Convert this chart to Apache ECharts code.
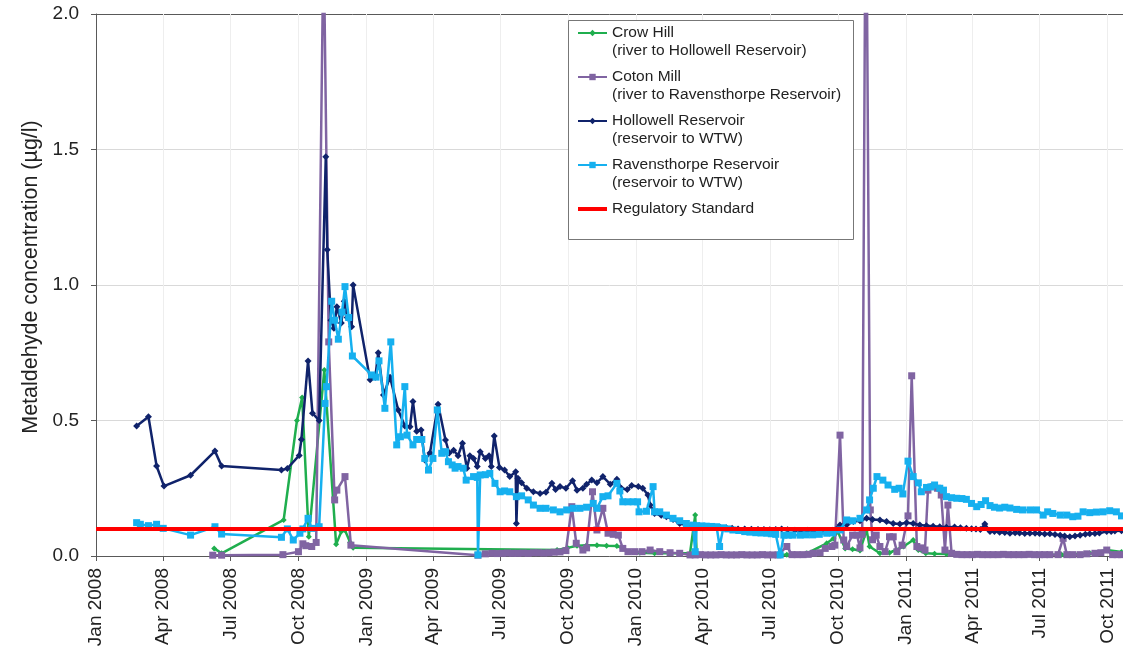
<!DOCTYPE html>
<html><head><meta charset="utf-8">
<script src="https://cdn.jsdelivr.net/npm/echarts@6/dist/echarts.min.js"></script>
<style>html,body{margin:0;padding:0;background:#fff}#c{width:1123px;height:651px}</style>
</head><body><div id="c"></div>
<script>
const tickDates = ['2008-01-01','2008-04-01','2008-07-01','2008-10-01','2009-01-01','2009-04-01','2009-07-01','2009-10-01','2010-01-01','2010-04-01','2010-07-01','2010-10-01','2011-01-01','2011-04-01','2011-07-01','2011-10-01'];
const tickLabels = ['Jan 2008','Apr 2008','Jul 2008','Oct 2008','Jan 2009','Apr 2009','Jul 2009','Oct 2009','Jan 2010','Apr 2010','Jul 2010','Oct 2010','Jan 2011','Apr 2011','Jul 2011','Oct 2011'];
const xRange = ['2008-01-01','2011-10-22'];
const regulatoryStandard = 0.1;

const crowHill = [['2008-06-09',0.028],['2008-06-19',0.01],['2008-09-11',0.133],['2008-09-29',0.50],['2008-10-06',0.585],['2008-10-15',0.071],['2008-11-05',0.686],['2008-11-21',0.043],['2008-11-28',0.09],['2008-12-03',0.095],['2008-12-10',0.05],['2008-12-14',0.03],['2009-09-16',0.022],['2009-09-30',0.03],['2009-10-13',0.038],['2009-10-26',0.04],['2009-11-09',0.04],['2009-11-22',0.038],['2009-12-06',0.037],['2009-12-14',0.028],['2009-12-24',0.015],['2010-01-06',0.012],['2010-01-26',0.01],['2010-02-16',0.01],['2010-03-15',0.01],['2010-03-22',0.151],['2010-03-24',0.008],['2010-04-11',0.005],['2010-05-08',0.005],['2010-06-04',0.005],['2010-07-01',0.005],['2010-07-24',0.005],['2010-08-20',0.01],['2010-09-16',0.047],['2010-09-25',0.065],['2010-10-01',0.09],['2010-10-11',0.028],['2010-10-21',0.025],['2010-10-31',0.02],['2010-11-09',0.096],['2010-11-13',0.035],['2010-11-27',0.01],['2010-12-10',0.012],['2010-12-29',0.035],['2011-01-11',0.059],['2011-01-18',0.022],['2011-01-28',0.01],['2011-02-09',0.008],['2011-02-25',0.007],['2011-03-15',0.005],['2011-04-25',0.005],['2011-06-04',0.005],['2011-07-31',0.005],['2011-09-07',0.01],['2011-09-30',0.022],['2011-10-20',0.015]];

const cotonMill = [['2008-06-07',0.003],['2008-06-19',0.003],['2008-09-10',0.005],['2008-10-01',0.016],['2008-10-07',0.045],['2008-10-11',0.038],['2008-10-19',0.035],['2008-10-25',0.05],['2008-11-04',2.3],['2008-11-11',0.79],['2008-11-19',0.207],['2008-11-22',0.243],['2008-12-03',0.293],['2008-12-11',0.04],['2009-06-01',0.003],['2009-06-11',0.008],['2009-06-20',0.01],['2009-06-27',0.009],['2009-07-04',0.01],['2009-07-11',0.011],['2009-07-18',0.01],['2009-07-25',0.01],['2009-08-01',0.011],['2009-08-08',0.01],['2009-08-15',0.012],['2009-08-22',0.012],['2009-08-29',0.011],['2009-09-05',0.012],['2009-09-12',0.014],['2009-09-20',0.015],['2009-09-28',0.02],['2009-10-06',0.182],['2009-10-12',0.047],['2009-10-21',0.022],['2009-10-26',0.03],['2009-11-03',0.237],['2009-11-09',0.096],['2009-11-17',0.176],['2009-11-24',0.084],['2009-12-01',0.08],['2009-12-08',0.077],['2009-12-14',0.028],['2009-12-21',0.016],['2009-12-30',0.016],['2010-01-09',0.016],['2010-01-20',0.022],['2010-02-02',0.016],['2010-02-16',0.012],['2010-03-01',0.01],['2010-03-15',0.004],['2010-03-22',0.004],['2010-03-29',0.005],['2010-04-05',0.004],['2010-04-12',0.004],['2010-04-19',0.004],['2010-04-26',0.005],['2010-05-03',0.004],['2010-05-10',0.004],['2010-05-17',0.004],['2010-05-24',0.005],['2010-05-31',0.004],['2010-06-07',0.004],['2010-06-14',0.004],['2010-06-21',0.005],['2010-06-28',0.004],['2010-07-05',0.004],['2010-07-12',0.004],['2010-07-24',0.035],['2010-07-31',0.005],['2010-08-07',0.005],['2010-08-15',0.005],['2010-08-22',0.006],['2010-08-29',0.01],['2010-09-07',0.012],['2010-09-14',0.028],['2010-09-23',0.035],['2010-09-27',0.04],['2010-10-04',0.446],['2010-10-09',0.059],['2010-10-13',0.035],['2010-10-21',0.077],['2010-10-27',0.077],['2010-10-31',0.03],['2010-11-03',0.08],['2010-11-08',2.7],['2010-11-14',0.17],['2010-11-17',0.06],['2010-11-22',0.077],['2010-11-27',0.035],['2010-12-04',0.016],['2010-12-10',0.071],['2010-12-15',0.071],['2010-12-20',0.016],['2010-12-27',0.04],['2011-01-04',0.148],['2011-01-09',0.665],['2011-01-16',0.035],['2011-01-21',0.03],['2011-01-27',0.022],['2011-01-31',0.243],['2011-02-07',0.256],['2011-02-13',0.25],['2011-02-18',0.225],['2011-02-23',0.022],['2011-02-27',0.188],['2011-03-04',0.01],['2011-03-11',0.006],['2011-03-18',0.005],['2011-03-25',0.005],['2011-04-01',0.005],['2011-04-08',0.006],['2011-04-15',0.005],['2011-04-22',0.005],['2011-04-29',0.005],['2011-05-06',0.005],['2011-05-13',0.006],['2011-05-20',0.005],['2011-05-27',0.005],['2011-06-03',0.005],['2011-06-10',0.005],['2011-06-17',0.006],['2011-06-24',0.005],['2011-07-01',0.005],['2011-07-08',0.005],['2011-07-15',0.005],['2011-07-26',0.005],['2011-08-02',0.065],['2011-08-07',0.005],['2011-08-15',0.005],['2011-08-25',0.005],['2011-09-03',0.008],['2011-09-14',0.01],['2011-09-22',0.012],['2011-09-30',0.022],['2011-10-08',0.005],['2011-10-14',0.005],['2011-10-20',0.005]];

const hollowell = [['2008-02-25',0.48],['2008-03-12',0.514],['2008-03-23',0.332],['2008-04-02',0.258],['2008-05-08',0.298],['2008-06-10',0.387],['2008-06-19',0.332],['2008-09-08',0.317],['2008-09-16',0.323],['2008-10-02',0.371],['2008-10-05',0.43],['2008-10-14',0.72],['2008-10-20',0.527],['2008-10-29',0.50],['2008-11-07',1.473],['2008-11-09',1.13],['2008-11-14',0.87],['2008-11-18',0.84],['2008-11-22',0.92],['2008-11-28',0.86],['2008-12-02',0.94],['2008-12-06',0.88],['2008-12-12',0.846],['2008-12-14',1.0],['2009-01-06',0.65],['2009-01-13',0.66],['2009-01-17',0.75],['2009-01-24',0.594],['2009-02-02',0.66],['2009-02-13',0.539],['2009-02-22',0.48],['2009-03-01',0.477],['2009-03-05',0.57],['2009-03-10',0.46],['2009-03-16',0.465],['2009-03-21',0.354],['2009-03-28',0.38],['2009-04-08',0.56],['2009-04-18',0.428],['2009-04-23',0.38],['2009-04-29',0.39],['2009-05-05',0.37],['2009-05-11',0.416],['2009-05-17',0.324],['2009-05-21',0.37],['2009-05-26',0.36],['2009-05-31',0.33],['2009-06-04',0.385],['2009-06-11',0.36],['2009-06-16',0.37],['2009-06-19',0.33],['2009-06-23',0.443],['2009-06-30',0.327],['2009-07-07',0.317],['2009-07-14',0.293],['2009-07-22',0.311],['2009-07-23',0.12],['2009-07-25',0.287],['2009-07-30',0.27],['2009-08-06',0.25],['2009-08-15',0.237],['2009-08-24',0.231],['2009-09-01',0.235],['2009-09-09',0.268],['2009-09-14',0.245],['2009-09-20',0.256],['2009-09-28',0.25],['2009-10-07',0.278],['2009-10-13',0.243],['2009-10-21',0.25],['2009-10-26',0.265],['2009-11-02',0.28],['2009-11-09',0.27],['2009-11-17',0.293],['2009-11-27',0.265],['2009-12-06',0.283],['2009-12-12',0.25],['2009-12-20',0.245],['2009-12-26',0.26],['2010-01-04',0.256],['2010-01-10',0.25],['2010-01-17',0.225],['2010-01-20',0.188],['2010-01-26',0.157],['2010-02-04',0.15],['2010-02-11',0.145],['2010-02-20',0.135],['2010-03-01',0.12],['2010-03-10',0.114],['2010-03-19',0.112],['2010-03-28',0.11],['2010-04-04',0.108],['2010-04-11',0.108],['2010-04-18',0.106],['2010-04-25',0.105],['2010-05-03',0.104],['2010-05-11',0.102],['2010-05-19',0.1],['2010-05-28',0.1],['2010-06-06',0.099],['2010-06-15',0.098],['2010-06-23',0.098],['2010-07-01',0.097],['2010-07-09',0.098],['2010-07-17',0.1],['2010-07-25',0.097],['2010-08-04',0.095],['2010-08-12',0.094],['2010-08-21',0.095],['2010-08-29',0.093],['2010-09-07',0.09],['2010-09-15',0.092],['2010-09-24',0.095],['2010-10-04',0.114],['2010-10-13',0.115],['2010-10-22',0.127],['2010-10-31',0.13],['2010-11-09',0.139],['2010-11-17',0.135],['2010-11-27',0.133],['2010-12-06',0.127],['2010-12-15',0.12],['2010-12-24',0.118],['2011-01-02',0.123],['2011-01-11',0.12],['2011-01-20',0.114],['2011-01-29',0.112],['2011-02-07',0.11],['2011-02-16',0.108],['2011-02-25',0.106],['2011-03-08',0.107],['2011-03-16',0.104],['2011-03-24',0.102],['2011-03-31',0.101],['2011-04-06',0.1],['2011-04-12',0.098],['2011-04-18',0.118],['2011-04-25',0.09],['2011-05-01',0.09],['2011-05-08',0.088],['2011-05-15',0.087],['2011-05-22',0.084],['2011-05-29',0.086],['2011-06-04',0.085],['2011-06-11',0.083],['2011-06-18',0.084],['2011-06-25',0.084],['2011-07-01',0.083],['2011-07-08',0.081],['2011-07-15',0.082],['2011-07-22',0.079],['2011-07-29',0.077],['2011-08-04',0.074],['2011-08-11',0.071],['2011-08-18',0.074],['2011-08-25',0.077],['2011-09-01',0.08],['2011-09-07',0.082],['2011-09-14',0.083],['2011-09-20',0.085],['2011-09-30',0.09],['2011-10-06',0.09],['2011-10-11',0.092],['2011-10-20',0.093]];

const ravensthorpe = [['2008-02-25',0.123],['2008-03-01',0.117],['2008-03-12',0.112],['2008-03-23',0.117],['2008-04-01',0.102],['2008-05-08',0.077],['2008-06-10',0.108],['2008-06-19',0.081],['2008-09-08',0.069],['2008-09-16',0.1],['2008-09-24',0.059],['2008-10-03',0.084],['2008-10-07',0.1],['2008-10-14',0.139],['2008-10-19',0.102],['2008-10-29',0.108],['2008-11-06',0.563],['2008-11-08',0.625],['2008-11-15',0.94],['2008-11-19',0.87],['2008-11-24',0.80],['2008-11-29',0.90],['2008-12-03',0.994],['2008-12-08',0.88],['2008-12-13',0.738],['2009-01-08',0.668],['2009-01-14',0.66],['2009-01-18',0.72],['2009-01-26',0.545],['2009-02-03',0.79],['2009-02-11',0.41],['2009-02-16',0.44],['2009-02-22',0.625],['2009-02-25',0.446],['2009-03-05',0.41],['2009-03-10',0.43],['2009-03-17',0.43],['2009-03-21',0.36],['2009-03-26',0.317],['2009-04-01',0.36],['2009-04-07',0.539],['2009-04-13',0.379],['2009-04-18',0.385],['2009-04-22',0.348],['2009-04-27',0.336],['2009-05-01',0.324],['2009-05-05',0.33],['2009-05-12',0.324],['2009-05-16',0.28],['2009-05-26',0.293],['2009-05-31',0.29],['2009-06-01',0.004],['2009-06-04',0.299],['2009-06-11',0.30],['2009-06-17',0.305],['2009-06-24',0.268],['2009-07-01',0.237],['2009-07-07',0.24],['2009-07-14',0.237],['2009-07-23',0.219],['2009-07-30',0.222],['2009-08-08',0.207],['2009-08-15',0.188],['2009-08-24',0.176],['2009-09-01',0.176],['2009-09-11',0.17],['2009-09-20',0.163],['2009-09-29',0.17],['2009-10-08',0.176],['2009-10-17',0.176],['2009-10-26',0.18],['2009-11-04',0.194],['2009-11-09',0.176],['2009-11-17',0.219],['2009-11-24',0.222],['2009-12-06',0.268],['2009-12-10',0.24],['2009-12-14',0.2],['2009-12-21',0.2],['2009-12-28',0.2],['2010-01-03',0.2],['2010-01-05',0.163],['2010-01-15',0.165],['2010-01-24',0.256],['2010-01-26',0.163],['2010-02-02',0.163],['2010-02-11',0.151],['2010-02-20',0.139],['2010-03-01',0.13],['2010-03-10',0.12],['2010-03-19',0.114],['2010-03-22',0.016],['2010-03-24',0.112],['2010-03-31',0.111],['2010-04-06',0.11],['2010-04-13',0.109],['2010-04-20',0.108],['2010-04-24',0.035],['2010-04-29',0.104],['2010-05-05',0.1],['2010-05-12',0.096],['2010-05-20',0.094],['2010-05-28',0.09],['2010-06-04',0.088],['2010-06-12',0.086],['2010-06-19',0.085],['2010-06-27',0.084],['2010-07-03',0.082],['2010-07-09',0.08],['2010-07-15',0.004],['2010-07-20',0.077],['2010-07-26',0.077],['2010-08-01',0.077],['2010-08-11',0.077],['2010-08-19',0.078],['2010-08-28',0.078],['2010-09-06',0.08],['2010-09-16',0.084],['2010-09-24',0.085],['2010-10-04',0.096],['2010-10-13',0.133],['2010-10-21',0.13],['2010-10-31',0.139],['2010-11-09',0.17],['2010-11-13',0.207],['2010-11-18',0.25],['2010-11-23',0.293],['2010-12-01',0.28],['2010-12-08',0.262],['2010-12-17',0.246],['2010-12-23',0.25],['2010-12-28',0.229],['2011-01-04',0.35],['2011-01-11',0.293],['2011-01-18',0.27],['2011-01-22',0.237],['2011-01-29',0.253],['2011-02-04',0.255],['2011-02-09',0.262],['2011-02-16',0.25],['2011-02-21',0.243],['2011-02-25',0.219],['2011-03-04',0.215],['2011-03-11',0.213],['2011-03-18',0.212],['2011-03-24',0.209],['2011-03-31',0.194],['2011-04-07',0.182],['2011-04-13',0.19],['2011-04-19',0.204],['2011-04-25',0.186],['2011-05-01',0.18],['2011-05-08',0.177],['2011-05-15',0.18],['2011-05-22',0.177],['2011-05-31',0.172],['2011-06-08',0.17],['2011-06-18',0.17],['2011-06-27',0.17],['2011-07-06',0.151],['2011-07-12',0.163],['2011-07-19',0.157],['2011-07-29',0.151],['2011-08-07',0.151],['2011-08-15',0.145],['2011-08-22',0.147],['2011-08-29',0.163],['2011-09-07',0.16],['2011-09-16',0.162],['2011-09-25',0.163],['2011-10-04',0.167],['2011-10-13',0.163],['2011-10-20',0.148]];

const seriesNames = ['Crow Hill\n(river to Hollowell Reservoir)','Coton Mill\n(river to Ravensthorpe Reservoir)','Hollowell Reservoir\n(reservoir to WTW)','Ravensthorpe Reservoir\n(reservoir to WTW)','Regulatory Standard'];

function ts(s){const p=s.split('-').map(Number);return new Date(p[0],p[1]-1,p[2]).getTime();}
function toXY(arr){return arr.map(d=>[ts(d[0]),d[1]]);}
const tickVals = tickDates.map(ts);
const FONT = "'Liberation Sans', Arial, sans-serif";

const chart = echarts.init(document.getElementById('c'), null, {renderer:'canvas'});
function lineSeries(name, data, color, symbol, size, z){
  return {name, type:'line', data:toXY(data), z, symbol, symbolSize:size, showAllSymbol:true,
    lineStyle:{color, width:2.5}, itemStyle:{color, borderWidth:0}, emphasis:{disabled:true}};
}
function labelFor(v){let bi=0,bd=Infinity;tickVals.forEach((t,i)=>{const d=Math.abs(t-v);if(d<bd){bd=d;bi=i;}});return tickLabels[bi];}
chart.setOption({
  animation:false,
  textStyle:{fontFamily:FONT},
  grid:{left:96, right:0, top:14, bottom:95, containLabel:false},
  xAxis:{type:'value', min:ts(xRange[0]), max:ts(xRange[1]), scale:true,
    axisLine:{show:true, onZero:false, lineStyle:{color:'#595959', width:1}},
    axisTick:{show:true, customValues:tickVals, length:5, lineStyle:{color:'#595959'}},
    axisLabel:{customValues:tickVals, rotate:90, fontSize:19, color:'#222', margin:12, fontFamily:FONT, hideOverlap:false, showMinLabel:true, showMaxLabel:true,
      formatter:labelFor},
    splitLine:{show:false}
  },
  yAxis:{type:'value', min:0, max:2, interval:0.5,
    name:'Metaldehyde concentration (µg/l)', nameLocation:'middle', nameGap:52,
    nameTextStyle:{fontSize:21.5, color:'#222', fontFamily:FONT, padding:[0,0,0,16]},
    axisLine:{show:true, lineStyle:{color:'#595959', width:1}},
    axisTick:{show:true, length:5, lineStyle:{color:'#595959'}},
    axisLabel:{fontSize:19, color:'#222', margin:17, fontFamily:FONT, formatter:v=>v.toFixed(1)},
    splitLine:{show:true, lineStyle:{color:['#d9d9d9','#d9d9d9','#d9d9d9','#d9d9d9','#595959'], width:1}}
  },
  legend:{orient:'vertical', left:577, top:6, padding:0, itemWidth:29, itemHeight:8, itemGap:-10,
    textStyle:{fontSize:15.5, lineHeight:18, color:'#222', fontFamily:FONT},
    formatter:function(n){return '\n'+n+(n.indexOf('\n')<0?'\n':'');},
    data:seriesNames.map((n,i)=> i===4 ? {name:n, icon:'path://M0,0L29,0L29,4L0,4Z'} : n)},
  graphic:[{type:'rect', z:3, shape:{x:568.5, y:20.5, width:285, height:219}, style:{fill:'#fff', stroke:'#777', lineWidth:1}}],
  series:[
    lineSeries(seriesNames[0], crowHill, '#1fae4e', 'diamond', 6, 2),
    lineSeries(seriesNames[1], cotonMill, '#8064a2', 'rect', 7, 3),
    lineSeries(seriesNames[2], hollowell, '#10236b', 'diamond', 7, 4),
    lineSeries(seriesNames[3], ravensthorpe, '#16b0ef', 'rect', 7, 5),
    {name:seriesNames[4], type:'line', z:6, symbol:'none', data:toXY([[xRange[0],regulatoryStandard],[xRange[1],regulatoryStandard]]),
      lineStyle:{color:'#ff0000', width:4}, itemStyle:{color:'#ff0000'}, emphasis:{disabled:true},
      markLine:{silent:true, symbol:'none', z:0, label:{show:false}, lineStyle:{color:'#eeeeee', width:1, type:'solid'},
        data:tickVals.slice(1).map(v=>({xAxis:v}))}}
  ]
});
</script></body></html>
